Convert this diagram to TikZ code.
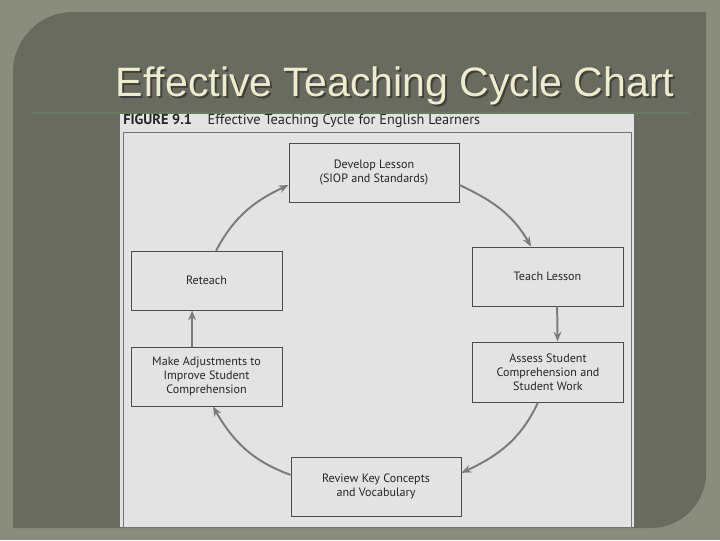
\documentclass[tikz,border=0pt]{standalone}
\usepackage{fontspec}
\setmainfont{Liberation Sans}[Ligatures={TeX,NoCommon}]
\newfontfamily\figfont{PT Sans}
\usetikzlibrary{arrows.meta}
\definecolor{outerbg}{HTML}{8A8D7D}
\definecolor{panelbg}{HTML}{6A6B5F}
\definecolor{titlecol}{HTML}{EDECCD}
\definecolor{rulecol}{HTML}{667A62}
\definecolor{paper}{HTML}{E3E3E3}
\definecolor{arrowcol}{HTML}{7C7C7C}
\begin{document}
\begin{tikzpicture}[x=0.025cm,y=0.025cm,
    stagebox/.style={draw=black!70,line width=0.6pt,fill=paper,align=center,
      font=\figfont\fontsize{8.6}{10}\selectfont,text=black!85,inner sep=0pt},
    wide/.style={minimum width=170*0.025cm,minimum height=59*0.025cm},
    narrow/.style={minimum width=151*0.025cm,minimum height=59*0.025cm},
    cyc/.style={draw=arrowcol,line width=1.4pt,-{Stealth[length=7pt,width=5.5pt]}}]
  \useasboundingbox (0,0) rectangle (720,540);
  \fill[outerbg] (0,0) rectangle (720,540);
  \fill[panelbg] (13,12) -- (13,468) arc[start angle=180,end angle=90,radius=60]
    -- (706,528) -- (706,67) arc[start angle=0,end angle=-90,radius=55] -- cycle;
  \node[anchor=base,text=black!75,font=\fontsize{29.2}{33}\selectfont] (titleshadow) at (397,441) {Effective Teaching Cycle Chart};
  \node[anchor=base,text=titlecol,font=\fontsize{29.2}{33}\selectfont] (title) at (395,443) {Effective Teaching Cycle Chart};
  \draw[rulecol,line width=1.2pt] (33,427) -- (690,427);
  % the figure
  \fill[paper] (120,13) rectangle (634,426);
  \draw[black!55,line width=0.6pt] (123,13) rectangle (631,408);
  \node[anchor=base west,inner sep=0pt,text=black!85,font=\figfont\fontsize{10.2}{12}\selectfont] (caption) at (123,415)
    {\textbf{FIGURE 9.1}\hspace{1.1em}Effective Teaching Cycle for English Learners};
  \node[stagebox,wide] (develop) at (374,367) {Develop Lesson\\(SIOP and Standards)};
  \node[stagebox,narrow] (teach) at (547.5,263.5) {Teach Lesson};
  \node[stagebox,narrow,minimum height=60*0.025cm] (assess) at (548,168) {Assess Student\\Comprehension and\\Student Work};
  \node[stagebox,wide] (review) at (376,53.5) {Review Key Concepts\\and Vocabulary};
  \node[stagebox,narrow] (adjust) at (206.5,163.5) {Make Adjustments to\\Improve Student\\Comprehension};
  \node[stagebox,narrow] (reteach) at (206.5,259.5) {Reteach};
  \draw[cyc] ([xshift=0.24cm]reteach.north) to[out=62,in=205] ([yshift=-0.3cm]develop.west);
  \draw[cyc] ([yshift=-0.3cm]develop.east) to[out=-25,in=120] ([xshift=-0.41cm]teach.north);
  \draw[cyc] ([xshift=0.24cm]teach.south) -- ([xshift=0.24cm]assess.north);
  \draw[cyc] ([xshift=-0.25cm]assess.south) to[out=-115,in=25] ([yshift=0.34cm]review.east);
  \draw[cyc] ([yshift=0.29cm]review.west) to[out=160,in=-60] ([xshift=0.16cm]adjust.south);
  \draw[cyc] ([xshift=-0.36cm]adjust.north) -- ([xshift=-0.36cm]reteach.south);
\end{tikzpicture}
\end{document}
